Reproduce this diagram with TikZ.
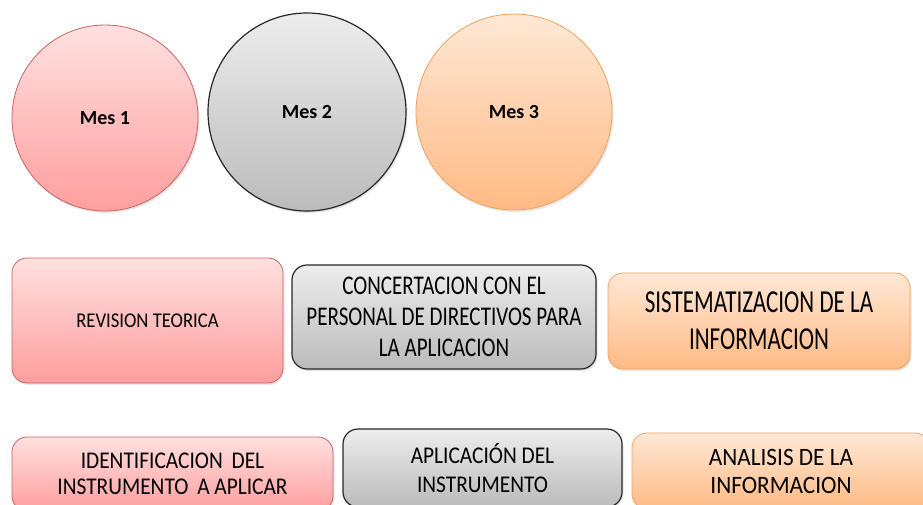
\documentclass[tikz,border=0pt]{standalone}
\usepackage{fontspec}
\setmainfont{Carlito}
\newfontfamily\narrowfont[FakeStretch=0.72]{Carlito}
\newfontfamily\semifont[FakeStretch=0.78]{Carlito}
\newfontfamily\midfont[FakeStretch=0.89]{Carlito}
\newfontfamily\widefont[FakeStretch=0.93]{Carlito}
\usetikzlibrary{shadows}
\definecolor{pinkTop}{HTML}{FFE0E0}
\definecolor{pinkBot}{HTML}{FF9E9E}
\definecolor{pinkLine}{HTML}{C86464}
\definecolor{grayTop}{HTML}{EDEDED}
\definecolor{grayBot}{HTML}{BBBBBB}
\definecolor{orangeTop}{HTML}{FFE8D6}
\definecolor{orangeBot}{HTML}{FFBA84}
\definecolor{orangeLine}{HTML}{F5A05A}
\tikzset{
	pinkfill/.style={draw=pinkLine, line width=0.8pt, top color=pinkTop, bottom color=pinkBot},
	grayfill/.style={draw=black!85, line width=1.2pt, top color=grayTop, bottom color=grayBot},
	orangefill/.style={draw=orangeLine, line width=0.8pt, top color=orangeTop, bottom color=orangeBot},
	softshadow/.style={drop shadow={shadow xshift=1.5pt, shadow yshift=-2pt, opacity=0.2}},
	mescirc/.style={circle, inner sep=0pt, softshadow},
	mestext/.style={font=\fontsize{20}{24}\selectfont\bfseries},
	taskbox/.style={rectangle, rounded corners=15pt, align=center, inner sep=0pt, softshadow},
}
\begin{document}
\begin{tikzpicture}[x=1pt, y=-1pt]
			%%%%% START %%%%%
			
			\useasboundingbox (0, 0) rectangle (923, 504);
			
			\node[mescirc, pinkfill, minimum size=186pt] (mes1) at (105, 118) {};
			\node[mescirc, grayfill, minimum size=198pt] (mes2) at (307, 112) {};
			\node[mescirc, orangefill, minimum size=196pt] (mes3) at (514, 112) {};
			\node[mestext] (mes1txt) at (mes1) {Mes 1};
			\node[mestext] (mes2txt) at (mes2) {Mes 2};
			\node[mestext] (mes3txt) at (mes3) {Mes 3};
			
			\node[taskbox, pinkfill, minimum width=271pt, minimum height=125pt,
				font=\midfont\fontsize{21}{30}\selectfont] (revision) at (147.5, 320.5) {REVISION TEORICA};
			\node[taskbox, grayfill, minimum width=304pt, minimum height=104pt,
				font=\semifont\fontsize{27}{31}\selectfont] (concert) at (444, 317)
				{CONCERTACION CON EL\\PERSONAL DE DIRECTIVOS PARA\\LA APLICACION};
			\node[taskbox, orangefill, minimum width=302pt, minimum height=96pt,
				font=\narrowfont\fontsize{32}{37}\selectfont] (sistem) at (759, 321)
				{SISTEMATIZACION DE LA\\INFORMACION};
			
			\node[taskbox, pinkfill, minimum width=321pt, minimum height=74pt,
				font=\midfont\fontsize{24}{26}\selectfont] (identif) at (172.5, 474)
				{IDENTIFICACION\, DEL\\INSTRUMENTO\, A APLICAR};
			\node[taskbox, grayfill, minimum width=279pt, minimum height=78pt,
				font=\midfont\fontsize{24}{29}\selectfont] (aplic) at (482.5, 468)
				{APLICACIÓN DEL\\INSTRUMENTO};
			\node[taskbox, orangefill, minimum width=298pt, minimum height=76pt,
				font=\widefont\fontsize{25}{28}\selectfont] (analisis) at (781, 471)
				{ANALISIS DE LA\\INFORMACION};
			
			%%%%% END %%%%%
\end{tikzpicture}
\end{document}
